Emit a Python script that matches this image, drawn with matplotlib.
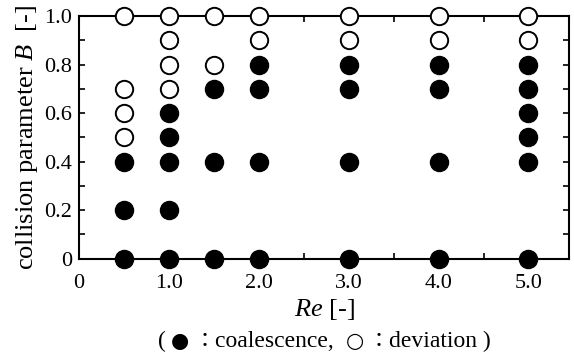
import matplotlib
matplotlib.use("Agg")
import matplotlib.pyplot as plt
from matplotlib.ticker import MultipleLocator

# Re values and collision parameter B for each outcome
coal_re = [0.5, 0.5, 0.5,
           1.0, 1.0, 1.0, 1.0, 1.0,
           1.5, 1.5, 1.5,
           2.0, 2.0, 2.0, 2.0,
           3.0, 3.0, 3.0, 3.0,
           4.0, 4.0, 4.0, 4.0,
           5.0, 5.0, 5.0, 5.0, 5.0, 5.0]
coal_b = [0.0, 0.2, 0.4,
          0.0, 0.2, 0.4, 0.5, 0.6,
          0.0, 0.4, 0.7,
          0.0, 0.4, 0.7, 0.8,
          0.0, 0.4, 0.7, 0.8,
          0.0, 0.4, 0.7, 0.8,
          0.0, 0.4, 0.5, 0.6, 0.7, 0.8]

dev_re = [0.5, 0.5, 0.5, 0.5,
          1.0, 1.0, 1.0, 1.0,
          1.5, 1.5,
          2.0, 2.0,
          3.0, 3.0,
          4.0, 4.0,
          5.0, 5.0]
dev_b = [0.5, 0.6, 0.7, 1.0,
         0.7, 0.8, 0.9, 1.0,
         0.8, 1.0,
         0.9, 1.0,
         0.9, 1.0,
         0.9, 1.0,
         0.9, 1.0]

x_ticks = [0, 1, 2, 3, 4, 5]
x_labels = ["0", "1.0", "2.0", "3.0", "4.0", "5.0"]
y_ticks = [0, 0.2, 0.4, 0.6, 0.8, 1.0]
y_labels = ["0", "0.2", "0.4", "0.6", "0.8", "1.0"]

plt.rcParams['font.family'] = ['Liberation Serif', 'Noto Sans CJK JP', 'DejaVu Sans']
plt.rcParams['mathtext.fontset'] = 'custom'
plt.rcParams['mathtext.it'] = 'Liberation Serif:italic'
plt.rcParams['mathtext.rm'] = 'Liberation Serif'

fig = plt.figure(figsize=(5.74, 3.58), dpi=100)
ax = fig.add_axes([0.1376, 0.2774, 0.8536, 0.6776])

ax.plot(coal_re, coal_b, linestyle='none', marker='o', markersize=13,
        markerfacecolor='black', markeredgecolor='black', clip_on=False, zorder=3)
ax.plot(dev_re, dev_b, linestyle='none', marker='o', markersize=12.5,
        markerfacecolor='white', markeredgecolor='black', markeredgewidth=1.4,
        clip_on=False, zorder=3)

ax.set_xlim(0, 5.45)
ax.set_ylim(0, 1.0)
ax.set_xticks(x_ticks)
ax.set_xticklabels(x_labels)
ax.set_yticks(y_ticks)
ax.set_yticklabels(y_labels)
ax.xaxis.set_minor_locator(MultipleLocator(0.5))
ax.yaxis.set_minor_locator(MultipleLocator(0.1))
ax.tick_params(which='both', direction='in', top=True, right=True,
               length=4, width=1.2, labelsize=16)
ax.tick_params(axis='x', which='major', pad=11)
ax.tick_params(axis='y', which='major', pad=5)
for s in ax.spines.values():
    s.set_linewidth(1.5)

ax.set_xlabel(r"$Re$ [-]", fontsize=19, labelpad=3)
ax.set_ylabel(r"collision parameter $B$  [-]", fontsize=19, labelpad=3)

# caption built piece by piece so the circle symbols can be bigger
pieces = [("( ", 17, 'Liberation Serif'),
          ("\u25cf", 15, 'DejaVu Sans'),
          (" \uff1a", 15, 'Noto Sans CJK JP'),
          ("coalescence,  ", 17, 'Liberation Serif'),
          ("\u25cb", 15, 'DejaVu Sans'),
          (" \uff1a", 15, 'Noto Sans CJK JP'),
          ("deviation )", 17, 'Liberation Serif')]
renderer = fig.canvas.get_renderer()
texts = []
x = 0.0
for s, size, fam in pieces:
    t = fig.text(x, 0.03, s, fontsize=size, family=fam, ha='left', va='baseline')
    w = t.get_window_extent(renderer).width / fig.bbox.width
    texts.append((t, w))
    x += w
start = 0.565 - x / 2
for t, w in texts:
    t.set_x(start)
    start += w

fig.savefig("out.png", dpi=100)
